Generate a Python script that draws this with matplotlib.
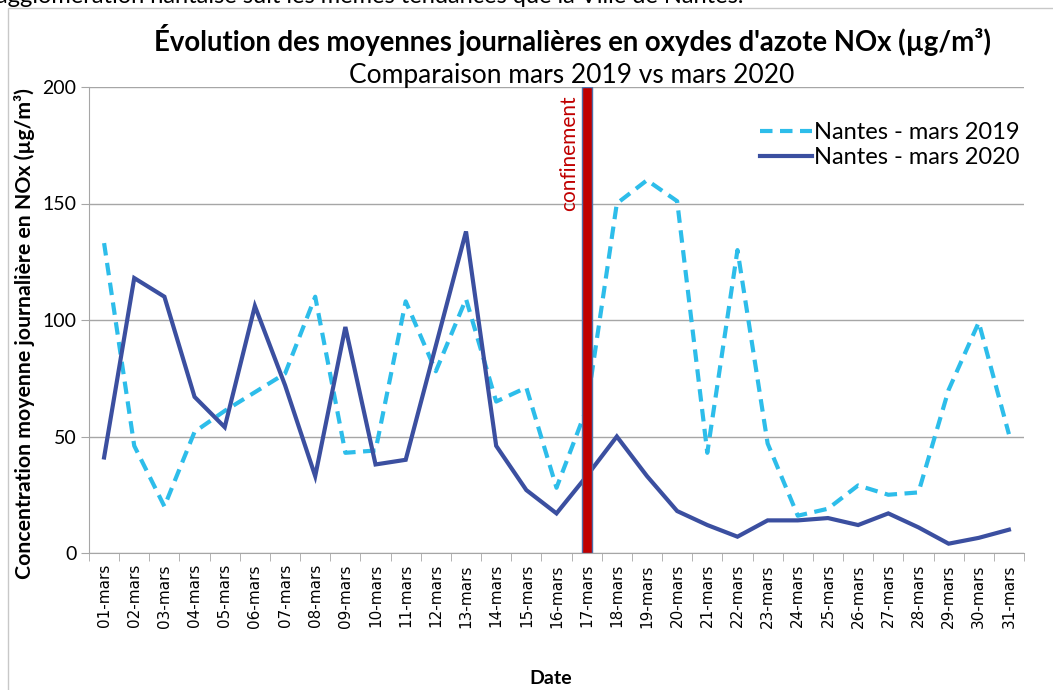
import matplotlib
matplotlib.use("Agg")
import matplotlib.pyplot as plt
from matplotlib.patches import Rectangle

# data
days = [f"{d:02d}-mars" for d in range(1, 32)]
nox_2019 = [133, 46, 20, 52, 61, 69, 77, 110, 43, 44, 108, 78, 109, 65, 71, 28,
            62, 150, 160, 151, 43, 130, 47, 16, 19, 29, 25, 26, 70, 99, 51]
nox_2020 = [41, 118, 110, 67, 54, 106, 72, 33, 97, 38, 40, 89, 138, 46, 27, 17,
            33, 50, 33, 18, 12, 7, 14, 14, 15, 12, 17, 11, 4, 6.5, 10]
confinement_day = ["17-mars"]
confinement_height = [200]
y_ticks = [0, 50, 100, 150, 200]

color_2019 = "#2DBDEA"
color_2020 = "#3B4FA0"
grid_color = "#A6A6A6"

plt.rcParams["font.family"] = ["Lato", "DejaVu Sans"]

fig = plt.figure(figsize=(10.53, 6.9), dpi=100)
ax = fig.add_axes([89 / 1053, 137 / 690, 935 / 1053, 466 / 690])

x = list(range(len(days)))
ax.plot(x, nox_2019, color=color_2019, lw=3, dashes=(3, 1.8),
        label="Nantes - mars 2019", zorder=3)
ax.plot(x, nox_2020, color=color_2020, lw=3, label="Nantes - mars 2020",
        zorder=3, solid_joinstyle="miter")

conf_x = [days.index(d) for d in confinement_day]
ax.bar(conf_x, confinement_height, width=0.33, color="#C00000",
       edgecolor="#4F6FA8", linewidth=1, zorder=4)
ax.text(conf_x[0] - 0.25, 196.5, "confinement", rotation=90, color="#C00000",
        ha="right", va="top", fontsize=15)

ax.set_xlim(-0.5, len(days) - 0.5)
ax.set_ylim(0, 200)
ax.set_yticks(y_ticks)
ax.set_yticklabels([str(v) for v in y_ticks], fontsize=14)
ax.yaxis.grid(True, color=grid_color, lw=1)
ax.set_axisbelow(True)

ax.set_xticks(x)
ax.set_xticklabels(days, rotation=90, fontsize=11, family="DejaVu Sans")
ax.set_xticks([i - 0.5 for i in range(len(days) + 1)], minor=True)
ax.tick_params(axis="x", which="major", length=0, pad=8)
ax.tick_params(axis="x", which="minor", length=6, color=grid_color)
ax.tick_params(axis="y", length=6, color=grid_color, pad=3)

for side in ["top", "right"]:
    ax.spines[side].set_visible(False)
for side in ["left", "bottom"]:
    ax.spines[side].set_color(grid_color)

ax.set_xlabel("Date", fontsize=14, fontweight="bold", va="center")
ax.xaxis.set_label_coords(551 / 1053, 1 - 678 / 690, transform=fig.transFigure)
ax.set_ylabel("Concentration moyenne journalière en NOx (µg/m³)",
              fontsize=15.3, fontweight="bold")
ax.yaxis.set_label_coords(35 / 1053, 1 - 334 / 690, transform=fig.transFigure)

leg = ax.legend(loc="upper right", bbox_to_anchor=(1.018, 0.97), frameon=False,
                fontsize=17, handlelength=2.2, handletextpad=0.1,
                labelspacing=0.15)

fig.text(572 / 1053, 1 - 40 / 690,
         "Évolution des moyennes journalières en oxydes d'azote NOx (µg/m³)",
         ha="center", va="center", fontsize=19.8, fontweight="bold")
fig.text(572 / 1053, 1 - 75 / 690, "Comparaison mars 2019 vs mars 2020",
         ha="center", va="center", fontsize=19)

# text of the page cut off above the chart
fig.text(-0.004, 1 + 4 / 690,
         "agglomération nantaise suit les mêmes tendances que la Ville de Nantes.",
         ha="left", va="center", fontsize=17)

top = 1 - 8 / 690
fig.patches.append(Rectangle((8 / 1053, -0.1), 1.2, top + 0.1, transform=fig.transFigure,
                             fill=False, edgecolor="#C8C8C8", lw=1))

fig.savefig("out.png", dpi=100)
